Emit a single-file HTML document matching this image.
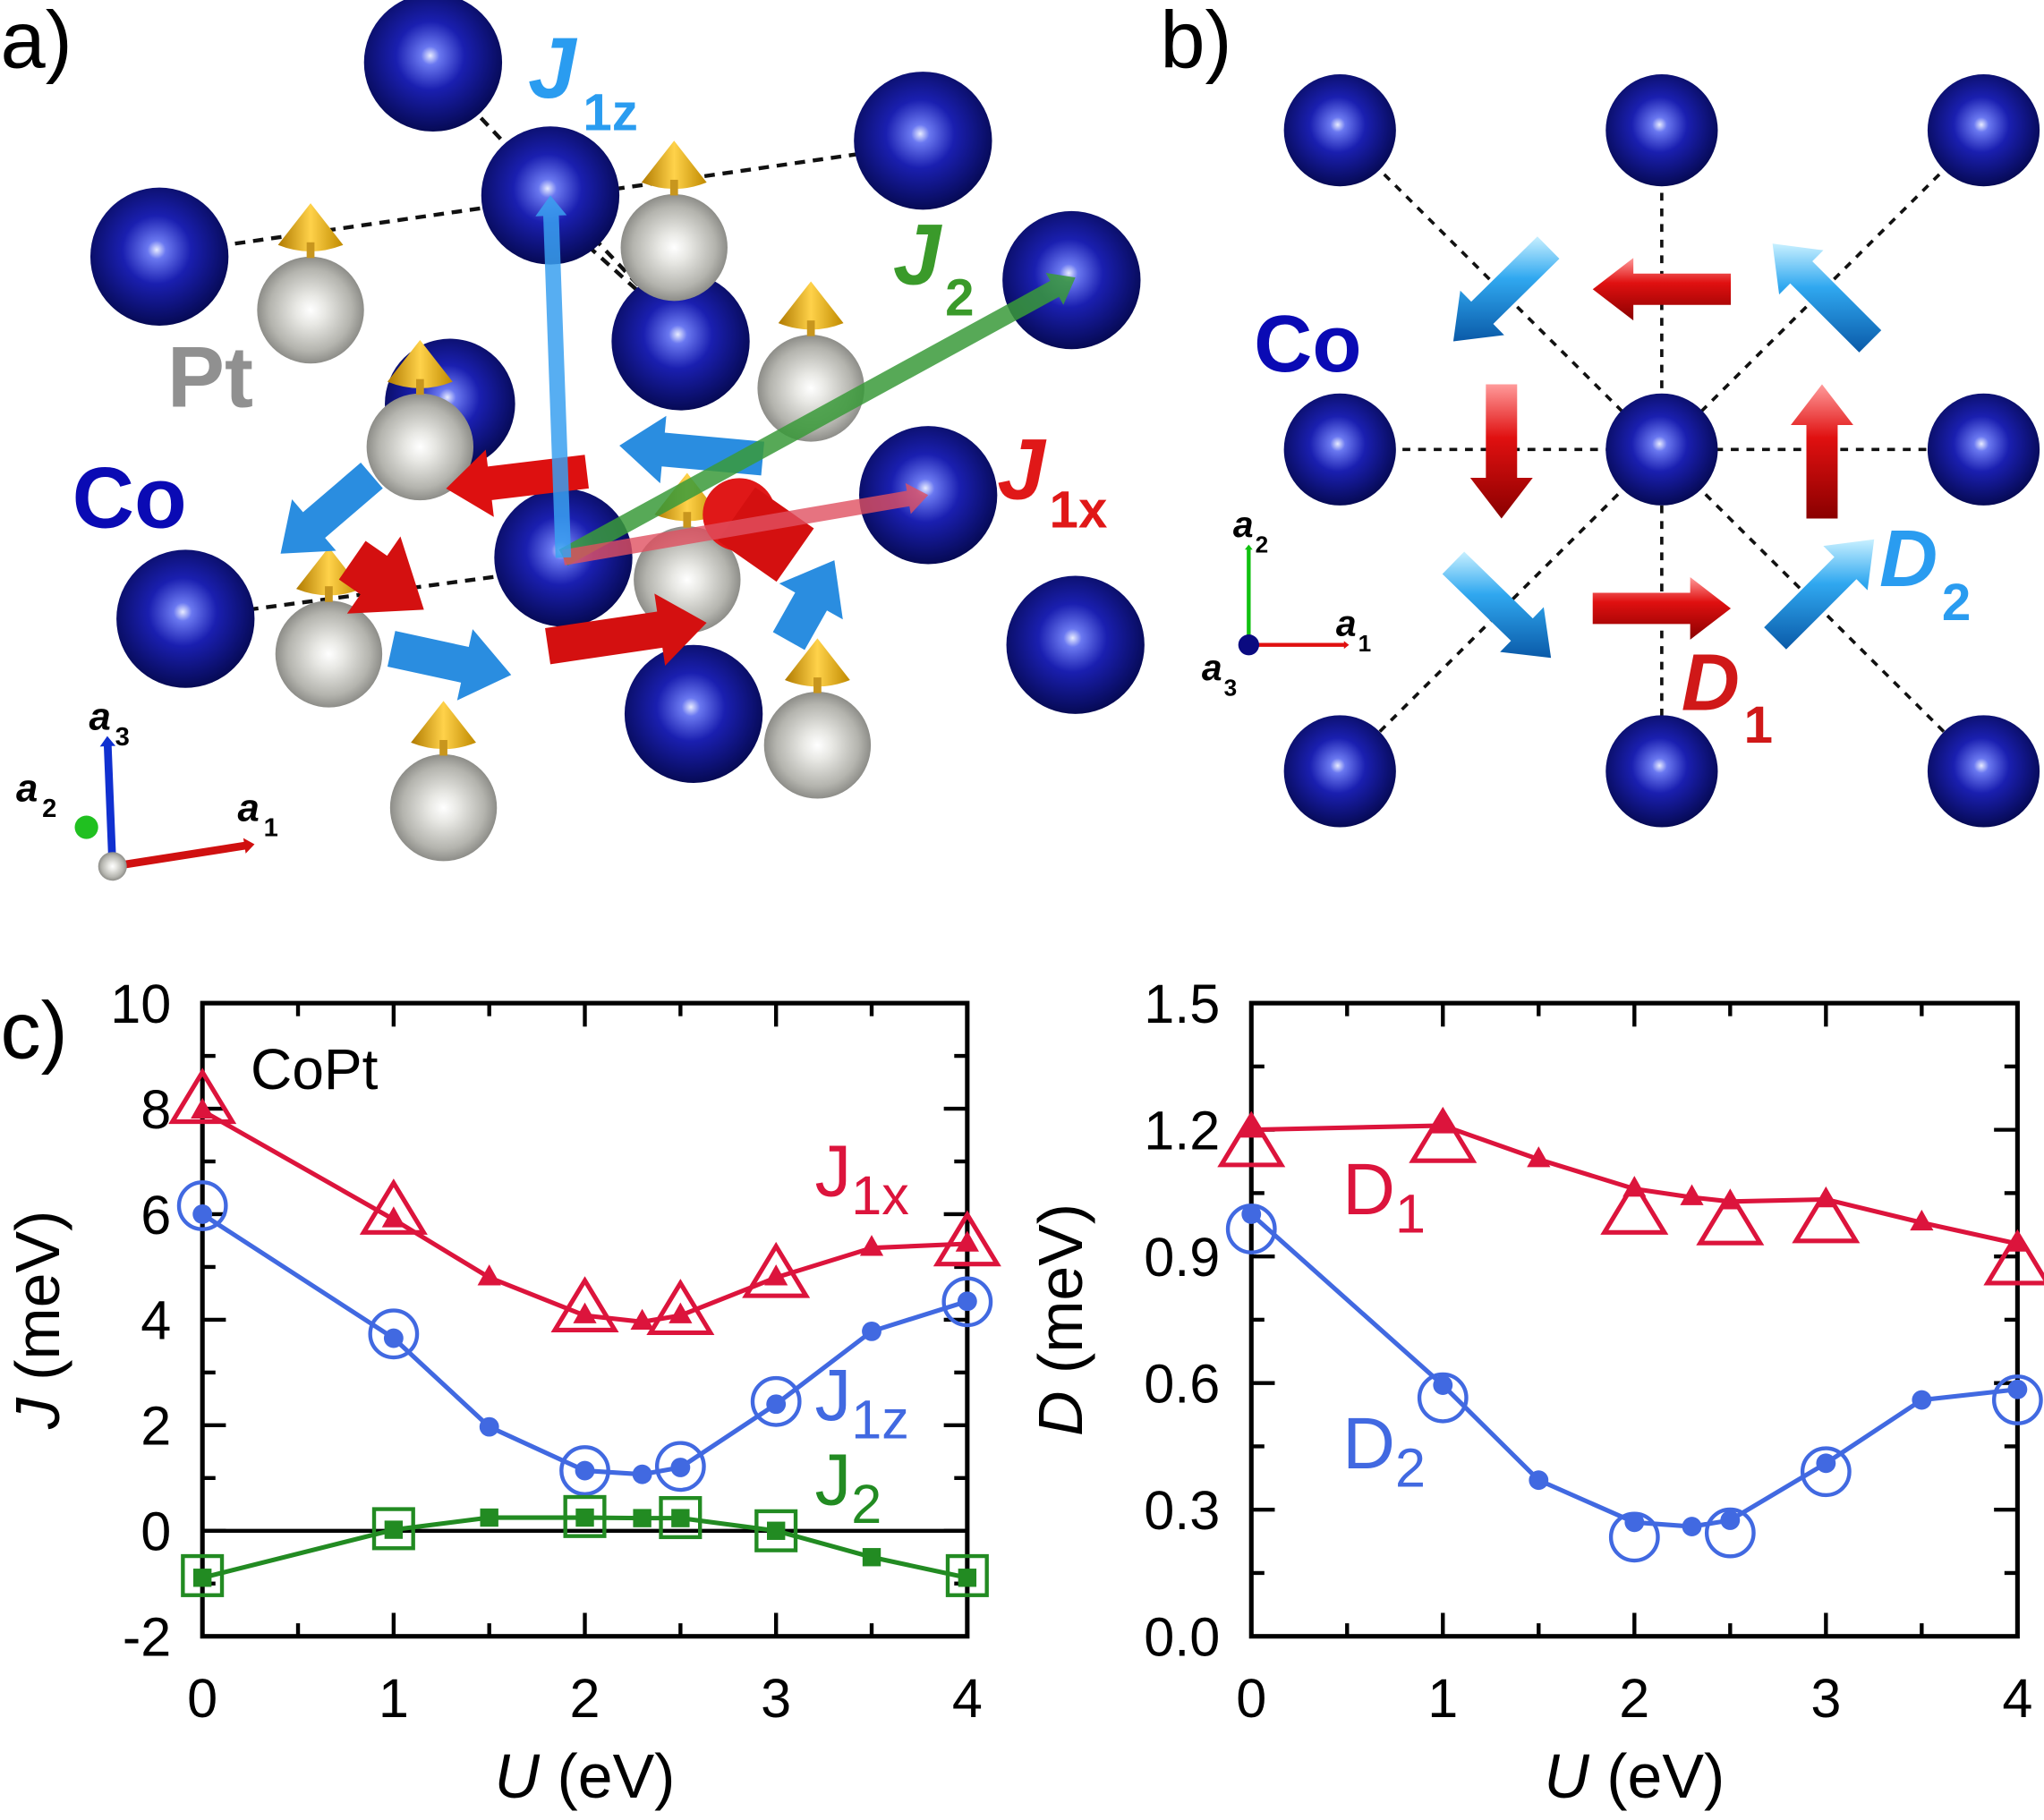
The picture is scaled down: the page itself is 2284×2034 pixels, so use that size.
<!DOCTYPE html>
<html><head><meta charset="utf-8"><style>
html,body{margin:0;padding:0;background:#fff}
svg{display:block}
text{font-family:"Liberation Sans",sans-serif}
</style></head><body>
<svg id="fig" width="2284" height="2034" viewBox="0 0 1568 1397" xmlns="http://www.w3.org/2000/svg">
<defs>
<radialGradient id="co" cx="0.48" cy="0.45" r="0.55"><stop offset="0" stop-color="#e8ecff"/><stop offset="0.12" stop-color="#6a78f0"/><stop offset="0.45" stop-color="#1a1fb0"/><stop offset="1" stop-color="#060a55"/></radialGradient>
<radialGradient id="pt" cx="0.5" cy="0.5" r="0.55"><stop offset="0" stop-color="#ffffff"/><stop offset="0.25" stop-color="#e8e8e4"/><stop offset="0.7" stop-color="#b4b4ae"/><stop offset="1" stop-color="#7c7c78"/></radialGradient>
<linearGradient id="gold" x1="0" x2="1"><stop offset="0" stop-color="#b07a00"/><stop offset="0.5" stop-color="#ffd24a"/><stop offset="1" stop-color="#c08a00"/></linearGradient>
<linearGradient id="redg" x1="0" y1="0" x2="0" y2="1"><stop offset="0" stop-color="#ff9a9a"/><stop offset="0.4" stop-color="#e01010"/><stop offset="1" stop-color="#8a0000"/></linearGradient>
<linearGradient id="blueg" x1="0" y1="0" x2="0" y2="1"><stop offset="0" stop-color="#c8f0ff"/><stop offset="0.4" stop-color="#30a8f0"/><stop offset="1" stop-color="#0a5aa8"/></linearGradient>
</defs>
<g id="panelA"></g>
<g id="panelB"></g>
<g id="chartJ"></g>
<g id="chartD"></g>
</svg>
<script>
// ---- Chart data (panel c) ----
const uFine = [0, 1, 1.5, 2, 2.3, 2.5, 3, 3.5, 4];
const uCoarse = [0, 1, 2, 2.5, 3, 4];
const j1xFilled = [7.96, 5.9, 4.8, 4.08, 3.96, 4.08, 4.8, 5.36, 5.44];
const j1xOpen = [8.1, 6.0, 4.15, 4.1, 4.8, 5.4];
const j1zFilled = [6.0, 3.65, 1.97, 1.14, 1.07, 1.2, 2.4, 3.78, 4.35];
const j1zOpen = [6.16, 3.73, 1.14, 1.22, 2.45, 4.34];
const j2Filled = [-0.89, 0.02, 0.25, 0.25, 0.24, 0.24, 0.0, -0.5, -0.89];
const j2Open = [-0.85, 0.04, 0.27, 0.25, 0.0, -0.85];
const d1Filled = [1.2, 1.21, 1.13, 1.06, 1.04, 1.03, 1.035, 0.98, 0.93];
const d1Open = [1.16, 1.17, 1.0, 0.975, 0.98, 0.88];
const d2Filled = [1.0, 0.595, 0.37, 0.27, 0.26, 0.275, 0.41, 0.56, 0.585];
const d2Open = [0.965, 0.565, 0.235, 0.245, 0.39, 0.56];
const xTicks = [0, 1, 2, 3, 4];
const jTicks = [10, 8, 6, 4, 2, 0, -2];
const jTickLabels = ["10", "8", "6", "4", "2", "0", "-2"];
const dTicks = [1.5, 1.2, 0.9, 0.6, 0.3, 0.0];
const dTickLabels = ["1.5", "1.2", "0.9", "0.6", "0.3", "0.0"];

const NS = "http://www.w3.org/2000/svg";
function mk(parent, tag, attrs, text) {
  const e = document.createElementNS(NS, tag);
  for (const k in attrs) e.setAttribute(k, attrs[k]);
  if (text !== undefined) e.textContent = text;
  parent.appendChild(e);
  return e;
}

// ---------- Panel A ----------
const A = document.getElementById('panelA');
const dashA = [[180,187,660,118],[190,468,400,440],[340,60,500,230],[430,170,530,260]];
dashA.forEach(d => {
  const l = mk(A, 'line', {x1:d[0],y1:d[1],x2:d[2],y2:d[3],stroke:'#111','stroke-width':3,'stroke-dasharray':'8 6'});
  
  
});
function coSphere(g, x, y, r) {
  const c = mk(g, 'circle', {cx:x, cy:y, r:r, fill:'url(#co)'});
  
  
}
function ptAtom(g, x, y) {
  const c = mk(g, 'circle', {cx:x, cy:y, r:41, fill:'url(#pt)'});
  
  
  const cone = mk(g, 'path', {d:`M${x-25} ${y-50} L${x} ${y-82} L${x+25} ${y-50} Q${x} ${y-40} ${x-25} ${y-50}Z`, fill:'url(#gold)'});
  
  
  mk(g, 'rect', {x:x-3, y:y-52, width:6, height:12, fill:'#c8961e'});
}
coSphere(A, 345, 310, 50);
[[332,48],[708,108],[422,150],[122,197],[822,215],[522,262]].forEach(p => coSphere(A, p[0], p[1], 53));
[[238,238],[517,190],[622,298],[322,343]].forEach(p => ptAtom(A, p[0], p[1]));
[[712,380],[432,428],[142,475],[825,495],[532,548]].forEach(p => coSphere(A, p[0], p[1], 53));
[[252,502],[527,445],[627,572],[340,620]].forEach(p => ptAtom(A, p[0], p[1]));
function arrow(g, x1, y1, x2, y2, w, color, name, op) {
  const dx = x2-x1, dy = y2-y1, L = Math.hypot(dx,dy), ux = dx/L, uy = dy/L, nx = -uy, ny = ux;
  const hl = w*1.3, hw = w*1.0;
  const bx = x2-ux*hl, by = y2-uy*hl;
  const d = `M${x1+nx*w/2} ${y1+ny*w/2} L${bx+nx*w/2} ${by+ny*w/2} L${bx+nx*hw} ${by+ny*hw} L${x2} ${y2} L${bx-nx*hw} ${by-ny*hw} L${bx-nx*w/2} ${by-ny*w/2} L${x1-nx*w/2} ${y1-ny*w/2}Z`;
  const p = mk(g, 'path', {d:d, fill:color, opacity: op||1});
  
  
}
arrow(A, 450, 362, 342, 375, 26, '#dd1010', 'red-moment-arrow');
arrow(A, 585, 352, 475, 342, 26, '#2a8de0', 'blue-moment-arrow');
arrow(A, 285, 365, 215, 425, 26, '#2a8de0', 'blue-moment-arrow');
arrow(A, 300, 498, 392, 518, 28, '#2a8de0', 'blue-moment-arrow');
arrow(A, 420, 496, 542, 478, 28, '#d41010', 'red-moment-arrow');
arrow(A, 270, 430, 325, 468, 36, '#d41010', 'red-moment-arrow');
arrow(A, 605, 492, 640, 430, 28, '#2a8de0', 'blue-moment-arrow');
mk(A, 'circle', {cx:567, cy:395, r:28, fill:'#e01818'});
mk(A, 'rect', {x:560, y:385, width:55, height:50, fill:'#d41010', transform:'rotate(35 587 410)'});
arrow(A, 432, 428, 825, 213, 14, '#3a9a3a', 'j2-bond-arrow', 0.85);
arrow(A, 432, 428, 712, 380, 12, '#e05060', 'j1x-bond-arrow', 0.8);
arrow(A, 432, 428, 422, 150, 12, '#3aa0f0', 'j1z-bond-arrow', 0.85);
mk(A, 'text', {x:0, y:52, 'font-size':62, fill:'#000'}, 'a)');
const j1z = mk(A, 'text', {x:405, y:75, 'font-size':66, 'font-weight':'bold', 'font-style':'italic', fill:'#2a9cf0'}, 'J');

mk(A, 'text', {x:447, y:100, 'font-size':40, 'font-weight':'bold', fill:'#2a9cf0'}, '1z');
mk(A, 'text', {x:685, y:218, 'font-size':66, 'font-weight':'bold', 'font-style':'italic', fill:'#3a9a2a'}, 'J');
mk(A, 'text', {x:725, y:242, 'font-size':40, 'font-weight':'bold', fill:'#3a9a2a'}, '2');
mk(A, 'text', {x:765, y:383, 'font-size':66, 'font-weight':'bold', 'font-style':'italic', fill:'#e01818'}, 'J');
mk(A, 'text', {x:805, y:405, 'font-size':40, 'font-weight':'bold', fill:'#e01818'}, '1x');
mk(A, 'text', {x:128, y:312, 'font-size':66, 'font-weight':'bold', fill:'#909090'}, 'Pt');
mk(A, 'text', {x:55, y:405, 'font-size':66, 'font-weight':'bold', fill:'#0a0ab4'}, 'Co');
// axes a
arrow(A, 86, 665, 195, 648, 6, '#d01010', 'axis-a1-arrow');
arrow(A, 86, 665, 82, 565, 6, '#1030d0', 'axis-a3-arrow');
mk(A, 'circle', {cx:66, cy:635, r:9, fill:'#20c020'});
mk(A, 'circle', {cx:86, cy:665, r:11, fill:'url(#pt)'});
mk(A, 'text', {x:68, y:560, 'font-size':30, 'font-weight':'bold', 'font-style':'italic'}, 'a');
mk(A, 'text', {x:88, y:572, 'font-size':20, 'font-weight':'bold'}, '3');
mk(A, 'text', {x:12, y:615, 'font-size':30, 'font-weight':'bold', 'font-style':'italic'}, 'a');
mk(A, 'text', {x:32, y:627, 'font-size':20, 'font-weight':'bold'}, '2');
mk(A, 'text', {x:182, y:630, 'font-size':30, 'font-weight':'bold', 'font-style':'italic'}, 'a');
mk(A, 'text', {x:202, y:642, 'font-size':20, 'font-weight':'bold'}, '1');

// ---------- Panel B ----------
const B = document.getElementById('panelB');
const gx = [1028, 1275, 1522], gy = [100, 345, 592];
[[1028,100,1522,592],[1522,100,1028,592],[1028,345,1522,345],[1275,100,1275,592]].forEach(d => {
  const l = mk(B, 'line', {x1:d[0],y1:d[1],x2:d[2],y2:d[3],stroke:'#111','stroke-width':2.5,'stroke-dasharray':'6 6'});
  
  
});
gy.forEach(y => gx.forEach(x => coSphere(B, x, y, 43)));
arrow(B, 1328, 222, 1222, 222, 24, 'url(#redg)', 'd1-arrow-left');
arrow(B, 1152, 295, 1152, 398, 24, 'url(#redg)', 'd1-arrow-down');
arrow(B, 1398, 398, 1398, 295, 24, 'url(#redg)', 'd1-arrow-up');
arrow(B, 1222, 467, 1328, 467, 24, 'url(#redg)', 'd1-arrow-right');
arrow(B, 1188, 190, 1115, 262, 24, 'url(#blueg)', 'd2-arrow');
arrow(B, 1435, 262, 1360, 187, 24, 'url(#blueg)', 'd2-arrow');
arrow(B, 1115, 432, 1190, 505, 24, 'url(#blueg)', 'd2-arrow');
arrow(B, 1362, 490, 1438, 414, 24, 'url(#blueg)', 'd2-arrow');
mk(B, 'text', {x:890, y:52, 'font-size':62}, 'b)');
mk(B, 'text', {x:962, y:285, 'font-size':62, 'font-weight':'bold', fill:'#0a0ab4'}, 'Co');
mk(B, 'text', {x:1442, y:450, 'font-size':62, 'font-weight':'bold', 'font-style':'italic', fill:'#2a9cf0'}, 'D');
mk(B, 'text', {x:1490, y:476, 'font-size':40, 'font-weight':'bold', fill:'#2a9cf0'}, '2');
mk(B, 'text', {x:1290, y:545, 'font-size':62, 'font-weight':'bold', 'font-style':'italic', fill:'#d01818'}, 'D');
mk(B, 'text', {x:1338, y:570, 'font-size':40, 'font-weight':'bold', fill:'#d01818'}, '1');
arrow(B, 958, 495, 1035, 495, 3, '#e01010', 'axis-a1-arrow-b');
arrow(B, 958, 495, 958, 418, 3, '#10c010', 'axis-a2-arrow-b');
mk(B, 'circle', {cx:958, cy:495, r:8, fill:'#0a0a80'});
mk(B, 'text', {x:946, y:412, 'font-size':28, 'font-weight':'bold', 'font-style':'italic'}, 'a');
mk(B, 'text', {x:963, y:424, 'font-size':18, 'font-weight':'bold'}, '2');
mk(B, 'text', {x:1025, y:488, 'font-size':28, 'font-weight':'bold', 'font-style':'italic'}, 'a');
mk(B, 'text', {x:1042, y:500, 'font-size':18, 'font-weight':'bold'}, '1');
mk(B, 'text', {x:922, y:522, 'font-size':28, 'font-weight':'bold', 'font-style':'italic'}, 'a');
mk(B, 'text', {x:939, y:534, 'font-size':18, 'font-weight':'bold'}, '3');

// ---------- Charts ----------
const RED = '#dc143c', BLUE = '#4169e1', GREEN = '#228b22';
function chart(g, cfg) {
  const X0 = cfg.x0, X1 = cfg.x1, Y0 = 770, Y1 = 1256;
  const xs = u => X0 + (u - 0) / 4 * (X1 - X0);
  const ys = v => Y1 - (v - cfg.ymin) / (cfg.ymax - cfg.ymin) * (Y1 - Y0);
  for (let u = 0; u <= 4.001; u += 0.5) {
    const L = Math.abs(u - Math.round(u)) < 1e-6 ? 18 : 10;
    mk(g, 'line', {x1:xs(u), y1:Y1, x2:xs(u), y2:Y1-L, stroke:'#000','stroke-width':3});
    mk(g, 'line', {x1:xs(u), y1:Y0, x2:xs(u), y2:Y0+L, stroke:'#000','stroke-width':3});
  }
  for (let v = cfg.ymin; v <= cfg.ymax + 1e-6; v += cfg.minor) {
    const isMaj = Math.abs(((v - cfg.ymin) / cfg.major) - Math.round((v - cfg.ymin) / cfg.major)) < 1e-6;
    const L = isMaj ? 18 : 10;
    mk(g, 'line', {x1:X0, y1:ys(v), x2:X0+L, y2:ys(v), stroke:'#000','stroke-width':3});
    mk(g, 'line', {x1:X1, y1:ys(v), x2:X1-L, y2:ys(v), stroke:'#000','stroke-width':3});
  }
  xTicks.forEach(u => {
    const t = mk(g, 'text', {x:xs(u), y:1318, 'font-size':42, 'text-anchor':'middle'}, String(u));
    
    
  });
  cfg.ticks.forEach((v, i) => {
    const t = mk(g, 'text', {x:X0-24, y:ys(v)+15, 'font-size':42, 'text-anchor':'end'}, cfg.tickLabels[i]);
    
    
  });
  if (cfg.zeroLine) mk(g, 'line', {x1:X0, y1:ys(0), x2:X1, y2:ys(0), stroke:'#000','stroke-width':3});
  const fr = mk(g, 'rect', {x:X0, y:Y0, width:X1-X0, height:Y1-Y0, fill:'none', stroke:'#000','stroke-width':3.5});
  
  
  cfg.series.forEach(s => {
    const pts = uFine.map((u, i) => xs(u) + ',' + ys(s.filled[i])).join(' ');
    const pl = mk(g, 'polyline', {points:pts, fill:'none', stroke:s.color, 'stroke-width':3.5});
    
    
    uFine.forEach((u, i) => {
      const x = xs(u), y = ys(s.filled[i]);
      let m;
      if (s.shape === 'tri') m = mk(g, 'path', {d:`M${x} ${y-10} L${x+9} ${y+6} L${x-9} ${y+6}Z`, fill:s.color});
      else if (s.shape === 'circ') m = mk(g, 'circle', {cx:x, cy:y, r:7.5, fill:s.color});
      else m = mk(g, 'rect', {x:x-7, y:y-7, width:14, height:14, fill:s.color});
      
      
    });
    uCoarse.forEach((u, i) => {
      const x = xs(u), y = ys(s.open[i]);
      let m;
      if (s.shape === 'tri') m = mk(g, 'path', {d:`M${x} ${y-24} L${x+23} ${y+14} L${x-23} ${y+14}Z`, fill:'none', stroke:s.color, 'stroke-width':3.5});
      else if (s.shape === 'circ') m = mk(g, 'circle', {cx:x, cy:y, r:18, fill:'none', stroke:s.color, 'stroke-width':3});
      else m = mk(g, 'rect', {x:x-15, y:y-15, width:30, height:30, fill:'none', stroke:s.color, 'stroke-width':3});
      
      
    });
  });
  const xt = mk(g, 'text', {x:(X0+X1)/2, y:1380, 'font-size':48, 'text-anchor':'middle'});
  
  
  mk(xt, 'tspan', {'font-style':'italic'}, 'U');
  mk(xt, 'tspan', {}, ' (eV)');
  const yt = mk(g, 'text', {x:0, y:0, 'font-size':48, 'text-anchor':'middle', transform:`translate(${cfg.ytX},${(Y0+Y1)/2}) rotate(-90)`});
  
  
  mk(yt, 'tspan', {'font-style':'italic'}, cfg.yvar);
  mk(yt, 'tspan', {}, ' (meV)');
}
function lab(g, x, y, main, sub, color, name) {
  const t = mk(g, 'text', {x:x, y:y, 'font-size':56, fill:color});
  
  
  mk(t, 'tspan', {}, main);
  mk(t, 'tspan', {'font-size':42, dy:14}, sub);
}
const CJ = document.getElementById('chartJ');
chart(CJ, {x0:155, x1:742, ymin:-2, ymax:10, major:2, minor:1, ticks:jTicks, tickLabels:jTickLabels, zeroLine:true, ytX:45, yvar:'J',
  series:[
    {name:'j1x', color:RED, shape:'tri', filled:j1xFilled, open:j1xOpen},
    {name:'j1z', color:BLUE, shape:'circ', filled:j1zFilled, open:j1zOpen},
    {name:'j2', color:GREEN, shape:'sq', filled:j2Filled, open:j2Open}]});
mk(CJ, 'text', {x:0, y:812, 'font-size':62}, 'c)');
mk(CJ, 'text', {x:192, y:836, 'font-size':44}, 'CoPt');
lab(CJ, 625, 918, 'J', '1x', RED, 'j1x-series-label');
lab(CJ, 625, 1090, 'J', '1z', BLUE, 'j1z-series-label');
lab(CJ, 625, 1155, 'J', '2', GREEN, 'j2-series-label');
const CD = document.getElementById('chartD');
chart(CD, {x0:960, x1:1548, ymin:0, ymax:1.5, major:0.3, minor:0.15, ticks:dTicks, tickLabels:dTickLabels, zeroLine:false, ytX:830, yvar:'D',
  series:[
    {name:'d1', color:RED, shape:'tri', filled:d1Filled, open:d1Open},
    {name:'d2', color:BLUE, shape:'circ', filled:d2Filled, open:d2Open}]});
lab(CD, 1030, 932, 'D', '1', RED, 'd1-series-label');
lab(CD, 1030, 1127, 'D', '2', BLUE, 'd2-series-label');
</script>
</body></html>
